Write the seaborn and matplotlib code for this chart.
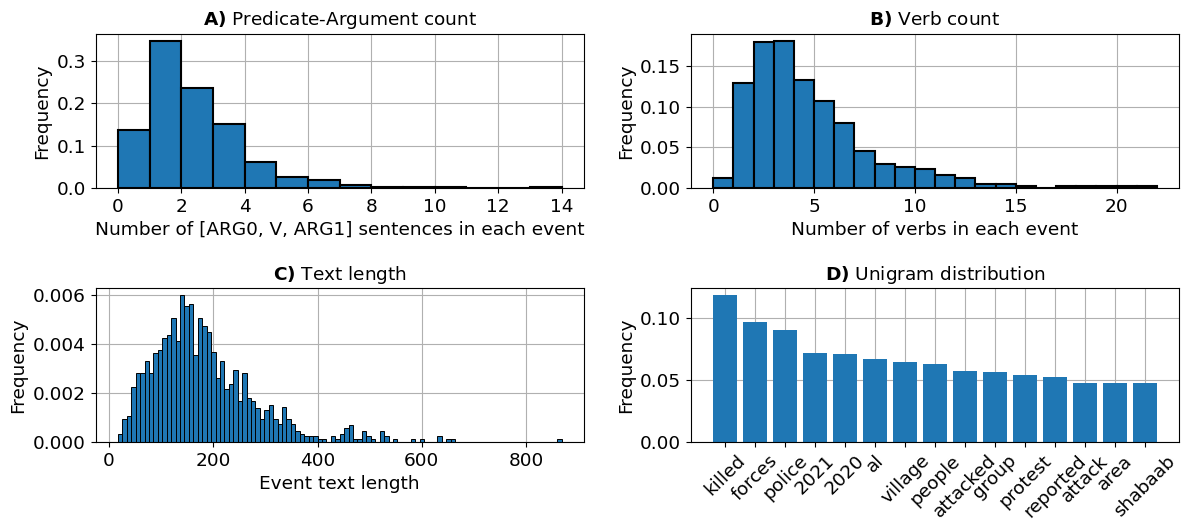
import numpy as np
import pandas as pd
import matplotlib
matplotlib.use("Agg")
import matplotlib.pyplot as plt
import seaborn as sns

# A) predicate-argument count per event (density, bins of width 1)
arg_edges = list(range(0, 15))
arg_freq = [0.136, 0.347, 0.237, 0.152, 0.060, 0.025, 0.018, 0.0063,
            0.003, 0.003, 0.001, 0.0004, 0.0002, 0.001]

# B) verb count per event
verb_edges = list(range(0, 23))
verb_freq = [0.0124, 0.1285, 0.1793, 0.1806, 0.1322, 0.107, 0.0798, 0.0455,
             0.0293, 0.0252, 0.0236, 0.0161, 0.0124, 0.0045, 0.005, 0.0017,
             0.0, 0.0017, 0.0017, 0.0017, 0.0017, 0.0025]

# C) text length, 100 bins between min and max length
len_min, len_max = 17, 868
len_freq = [0.00034, 0.00095, 0.00105, 0.00223, 0.00284, 0.00284, 0.0033, 0.00284,
            0.00366, 0.00377, 0.00425, 0.00437, 0.00507, 0.00412, 0.0060, 0.00555,
            0.00566, 0.00355, 0.00507, 0.00473, 0.00449, 0.00368, 0.0026, 0.00332,
            0.00215, 0.00236, 0.00295, 0.00167, 0.00284, 0.00178, 0.00166, 0.00141,
            0.00096, 0.0013, 0.00153, 0.00093, 0.00073, 0.00142, 0.00093, 0.00073,
            0.00045, 0.00034, 0.00023, 0.00023, 0.00023, 0.00012, 0.00012, 0.0,
            0.00023, 0.00012, 0.00034, 0.00058, 0.00071, 0.00012, 0.00012, 0.00045,
            0.00023, 0.00012, 0.0, 0.00047, 0.00023, 0.0, 0.00012, 0.0,
            0.0, 0.0, 0.00012, 0.0, 0.00012, 0.0, 0.0, 0.0,
            0.00023, 0.0, 0.00012, 0.00012, 0.0, 0.0, 0.0, 0.0,
            0.0, 0.0, 0.0, 0.0, 0.0, 0.0, 0.0, 0.0,
            0.0, 0.0, 0.0, 0.0, 0.0, 0.0, 0.0, 0.0,
            0.0, 0.0, 0.0, 0.00012]

# D) unigram distribution
words = ["killed", "forces", "police", "2021", "2020", "al", "village", "people",
         "attacked", "group", "protest", "reported", "attack", "area", "shabaab"]
word_freq = [0.1186, 0.0968, 0.0903, 0.0716, 0.0708, 0.0668, 0.0643, 0.0627,
             0.0578, 0.0562, 0.0538, 0.0522, 0.0481, 0.0473, 0.0473]

blue = "#1f77b4"
fs = 13.3
plt.rcParams["font.family"] = ["DejaVu Sans"]
plt.rcParams["axes.axisbelow"] = True
plt.rcParams["font.size"] = fs
plt.rcParams["axes.labelsize"] = fs
plt.rcParams["xtick.labelsize"] = fs
plt.rcParams["ytick.labelsize"] = fs


def weighted_hist(ax, edges, freq, lw):
    edges = np.asarray(edges, dtype=float)
    df = pd.DataFrame({"x": (edges[:-1] + edges[1:]) / 2, "w": freq})
    sns.histplot(data=df, x="x", weights="w", bins=edges.tolist(), ax=ax,
                 color=blue, edgecolor="black", linewidth=lw, alpha=1)
    ax.grid(True)
    ax.set_ylabel("Frequency")


fig, axes = plt.subplots(2, 2, figsize=(11.82, 5.2), dpi=100)
fig.subplots_adjust(left=0.081, right=0.9975, top=0.935, bottom=0.15,
                    wspace=0.22, hspace=0.65)

ax = axes[0, 0]
weighted_hist(ax, arg_edges, arg_freq, 1.5)
ax.set_title(r"$\bf{A)}$ Predicate-Argument count", fontsize=fs)
ax.set_xlabel("Number of [ARG0, V, ARG1] sentences in each event")

ax = axes[0, 1]
weighted_hist(ax, verb_edges, verb_freq, 1.5)
ax.set_title(r"$\bf{B)}$ Verb count", fontsize=fs)
ax.set_xlabel("Number of verbs in each event")

ax = axes[1, 0]
weighted_hist(ax, np.linspace(len_min, len_max, len(len_freq) + 1), len_freq, 0.7)
ax.set_title(r"$\bf{C)}$ Text length", fontsize=fs)
ax.set_xlabel("Event text length")

ax = axes[1, 1]
sns.barplot(x=words, y=word_freq, color=blue, saturation=1, width=0.8, ax=ax)
pad = 0.05 * (len(words) - 0.2)
ax.set_xlim(-0.4 - pad, len(words) - 0.6 + pad)
ax.grid(True)
ax.set_title(r"$\bf{D)}$ Unigram distribution", fontsize=fs)
ax.set_ylabel("Frequency")
ax.tick_params(axis="x", labelrotation=45)

fig.savefig("out.png", dpi=100)
